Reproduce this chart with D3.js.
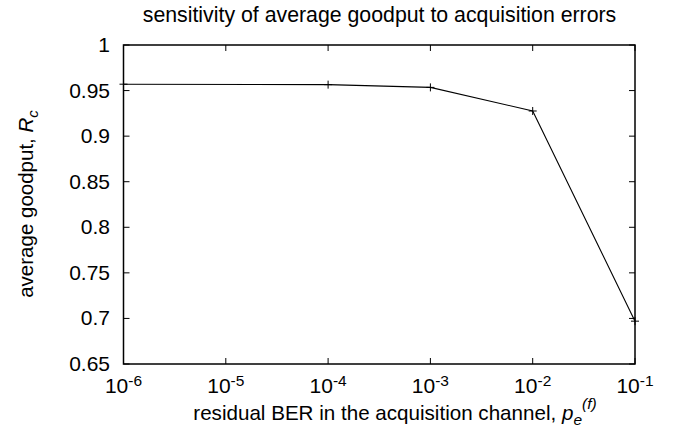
<!DOCTYPE html>
<html>
<head>
<meta charset="utf-8">
<script src="https://cdn.jsdelivr.net/npm/d3@7"></script>
<style>
  body { margin: 0; background: #fff; }
  text { font-family: "Liberation Sans", Arial, sans-serif; fill: #000; }
</style>
</head>
<body>
<div id="chart"></div>
<script>
// goodput vs residual BER
var berValues = [1e-6, 1e-4, 1e-3, 1e-2, 1e-1];
var goodputValues = [0.957, 0.9565, 0.9535, 0.9276, 0.697];
var xTickExps = [-6, -5, -4, -3, -2, -1];
var yTickValues = [0.65, 0.7, 0.75, 0.8, 0.85, 0.9, 0.95, 1];

var svgWidth = 675;
var svgHeight = 436;
var margin = { top: 45, right: 40, bottom: 72, left: 123.5 };
var width = 635 - margin.left;
var height = 364 - margin.top;

var svg = d3.select("#chart").append("svg")
  .attr("width", svgWidth)
  .attr("height", svgHeight);

var g = svg.append("g")
  .attr("transform", `translate(${margin.left}, ${margin.top})`);

var xScale = d3.scaleLog().domain([1e-6, 1e-1]).range([0, width]);
var yScale = d3.scaleLinear().domain([0.65, 1]).range([height, 0]);

var tickLen = 6;

// ticks (inward, mirrored)
xTickExps.forEach(function(e) {
  var x = xScale(Math.pow(10, e));
  g.append("line").attr("x1", x).attr("x2", x).attr("y1", height).attr("y2", height - tickLen)
    .attr("stroke", "#000").attr("stroke-width", 1);
  g.append("line").attr("x1", x).attr("x2", x).attr("y1", 0).attr("y2", tickLen)
    .attr("stroke", "#000").attr("stroke-width", 1);
  var t = g.append("text")
    .attr("x", x)
    .attr("y", height + 29)
    .attr("text-anchor", "middle")
    .attr("font-size", "21px");
  t.append("tspan").text("10");
  t.append("tspan").attr("dy", -7).attr("font-size", "15.5px").text(e);
});

yTickValues.forEach(function(v) {
  var y = yScale(v);
  g.append("line").attr("x1", 0).attr("x2", tickLen).attr("y1", y).attr("y2", y)
    .attr("stroke", "#000").attr("stroke-width", 1);
  g.append("line").attr("x1", width).attr("x2", width - tickLen).attr("y1", y).attr("y2", y)
    .attr("stroke", "#000").attr("stroke-width", 1);
  g.append("text")
    .attr("x", -13.5)
    .attr("y", y + 7)
    .attr("text-anchor", "end")
    .attr("font-size", "21px")
    .text(d3.format("")(v));
});

// frame
g.append("rect")
  .attr("x", 0).attr("y", 0)
  .attr("width", width).attr("height", height)
  .attr("fill", "none")
  .attr("stroke", "#000")
  .attr("stroke-width", 1.5);

var data = berValues.map(function(b, i) { return { ber: b, goodput: goodputValues[i] }; });

var line = d3.line()
  .x(function(d) { return xScale(d.ber); })
  .y(function(d) { return yScale(d.goodput); });

g.append("path")
  .datum(data)
  .attr("d", line)
  .attr("fill", "none")
  .attr("stroke", "#000")
  .attr("stroke-width", 1.1);

var ms = 4;
g.append("g").selectAll("path")
  .data(data)
  .enter()
  .append("path")
  .attr("d", function(d) {
    var x = xScale(d.ber), y = yScale(d.goodput);
    return `M${x - ms},${y}H${x + ms}M${x},${y - ms}V${y + ms}`;
  })
  .attr("stroke", "#000")
  .attr("stroke-width", 1);

// title
svg.append("text")
  .attr("x", 379.5)
  .attr("y", 22)
  .attr("text-anchor", "middle")
  .attr("font-size", "21.3px")
  .text("sensitivity of average goodput to acquisition errors");

// x label
var xl = svg.append("text")
  .attr("x", 395)
  .attr("y", 420)
  .attr("text-anchor", "middle")
  .attr("font-size", "20.6px");
xl.append("tspan").text("residual BER in the acquisition channel, ");
xl.append("tspan").attr("font-style", "italic").text("p");
xl.append("tspan").attr("font-style", "italic").attr("font-size", "15.5px").attr("dy", 5).text("e");
xl.append("tspan").attr("font-style", "italic").attr("font-size", "15.5px").attr("dy", -16).text("(f)");

// y label
var yl = svg.append("text")
  .attr("transform", "translate(33, 204) rotate(-90)")
  .attr("text-anchor", "middle")
  .attr("font-size", "20.5px");
yl.append("tspan").text("average goodput, ");
yl.append("tspan").attr("font-style", "italic").text("R");
yl.append("tspan").attr("font-style", "italic").attr("font-size", "15px").attr("dy", 5).text("c");
</script>
</body>
</html>
